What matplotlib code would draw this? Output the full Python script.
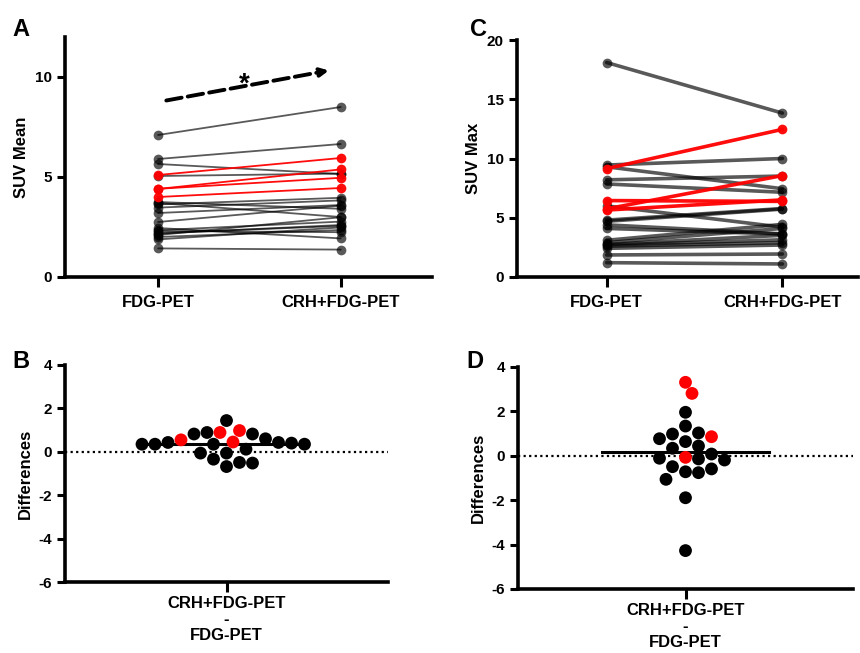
import numpy as np
import matplotlib
matplotlib.use("Agg")
import matplotlib.pyplot as plt

plt.rcParams['font.family'] = ['Liberation Sans', 'DejaVu Sans']
plt.rcParams['font.weight'] = 'bold'
plt.rcParams['axes.unicode_minus'] = False

groups = ['FDG-PET', 'CRH+FDG-PET']
diff_label = 'CRH+FDG-PET\n-\nFDG-PET'

# panel A: SUV mean, paired (FDG-PET, CRH+FDG-PET)
mean_pre_black = [7.1, 5.9, 5.65, 5.05, 3.7, 3.63, 3.47, 3.2, 3.75, 2.75,
                  2.34, 2.17, 2.0, 1.88, 1.43, 2.3, 2.1, 2.45, 2.2]
mean_post_black = [8.5, 6.65, 5.15, 5.17, 3.0, 3.96, 3.83, 3.6, 3.41, 3.57,
                   2.77, 2.6, 2.35, 2.48, 1.37, 2.24, 2.99, 1.93, 2.55]
mean_pre_red = [5.1, 4.4, 4.0, 4.41]
mean_post_red = [5.95, 5.38, 4.45, 4.96]

# panel C: SUV max
max_pre_black = [18.1, 9.45, 9.3, 8.2, 7.85, 6.0, 4.8, 4.7, 4.4, 4.1,
                 3.1, 2.9, 2.75, 2.7, 2.6, 2.42, 1.86, 1.21]
max_post_black = [13.83, 10.0, 7.45, 8.52, 7.15, 4.2, 5.78, 5.73, 3.64, 3.62,
                  4.44, 4.1, 3.52, 3.14, 2.9, 2.7, 1.94, 1.1]
max_pre_red = [9.15, 5.75, 6.45, 5.65]
max_post_red = [12.46, 8.56, 6.38, 6.51]

# panel B / D: differences
mean_diff_black = [0.43, 0.43, 0.35, 0.35, 1.44, 0.82, 0.12, 0.35, 0.82, 0.35,
                   0.89, 0.4, 0.6, -0.06, -0.49, -0.68, -0.52, -0.34, -0.06]
mean_diff_red = [0.55, 0.98, 0.89, 0.45]
max_diff_black = [1.96, 1.34, 0.98, 1.03, 0.77, 0.64, 0.34, 0.44, 0.08, -0.14,
                  -0.19, -0.11, -0.49, -0.72, -0.76, -0.59, -1.06, -1.89, -4.27]
max_diff_red = [3.31, 2.81, 0.86, -0.07]

W, H = 860, 653
fig = plt.figure(figsize=(W / 100, H / 100), dpi=100)


def px_axes(l, t, r, b):
    return fig.add_axes([l / W, 1 - b / H, (r - l) / W, (b - t) / H])


def style(ax):
    for s in ['top', 'right']:
        ax.spines[s].set_visible(False)
    for s in ['left', 'bottom']:
        ax.spines[s].set_linewidth(2.6)
    ax.tick_params(width=2.2, length=6, labelsize=11)
    ax.tick_params(axis='x', length=7, labelsize=12, pad=6)


def paired(ax, pre_b, post_b, pre_r, post_r, lw, ms):
    for a, b in zip(pre_b, post_b):
        ax.plot([0, 1], [a, b], color='black', alpha=0.65, lw=lw,
                marker='o', ms=ms, mec='none', solid_capstyle='round')
    for a, b in zip(pre_r, post_r):
        ax.plot([0, 1], [a, b], color='#ff0000', lw=lw, alpha=0.95,
                marker='o', ms=ms, mec='none')
    ax.set_xticks([0, 1])
    ax.set_xticklabels(groups)


def swarm(vals, px_per_x, px_per_y, diam):
    # greedy beeswarm in pixel space, half-diameter slots
    order = np.argsort(vals)[::-1]
    placed = []
    xs = np.zeros(len(vals))
    for i in order:
        y = vals[i] * px_per_y
        k = 0
        while True:
            cands = [0.0] if k == 0 else [k * diam / 2, -k * diam / 2]
            ok = None
            for c in cands:
                if all((c - px) ** 2 + (y - py) ** 2 >= (diam * 0.98) ** 2 for px, py in placed):
                    ok = c
                    break
            if ok is not None:
                break
            k += 1
        placed.append((ok, y))
        xs[i] = ok / px_per_x
    return xs


def diffs(ax, black, red, width_px, height_px):
    vals = np.array(black + red)
    cols = ['black'] * len(black) + ['#ff0000'] * len(red)
    xs = swarm(vals, width_px / 2.0, height_px / 10.0, 13)
    ax.axhline(0, color='black', lw=1.6, ls=(0, (1, 1.5)), zorder=1)
    ax.plot([-0.5, 0.5], [vals.mean()] * 2, color='black', lw=2.2, zorder=2)
    ax.scatter(xs, vals, s=85, c=cols, edgecolors='none', zorder=3)
    ax.set_xlim(-1, 1)
    ax.set_ylim(-6, 4)
    ax.set_yticks([-6, -4, -2, 0, 2, 4])
    ax.set_xticks([0])
    ax.set_xticklabels([diff_label], linespacing=1.1)
    ax.tick_params(axis='x', pad=3)
    ax.set_ylabel('Differences', fontsize=12, fontweight='bold', labelpad=4)


# A
axA = px_axes(65, 37, 432, 277)
style(axA)
paired(axA, mean_pre_black, mean_post_black, mean_pre_red, mean_post_red, 1.3, 7)
axA.set_xlim(-0.51, 1.5)
axA.set_ylim(0, 12)
axA.set_yticks([0, 5, 10])
axA.set_ylabel('SUV Mean', fontsize=12, fontweight='bold', labelpad=4)
axA.annotate('', xy=(0.95, 10.35), xytext=(0.03, 8.8),
             arrowprops=dict(arrowstyle='-|>', lw=2.8, ls=(0, (4, 1.6)),
                             color='black', mutation_scale=12))
axA.text(0.47, 9.6, '*', fontsize=20, fontweight='bold', ha='center', va='center')

# C
axC = px_axes(517, 40, 858, 277)
style(axC)
paired(axC, max_pre_black, max_post_black, max_pre_red, max_post_red, 2.6, 7)
axC.set_xlim(-0.51, 1.43)
axC.set_ylim(0, 20)
axC.set_yticks([0, 5, 10, 15, 20])
axC.set_ylabel('SUV Max', fontsize=12, fontweight='bold', labelpad=4)

# B
axB = px_axes(65, 365, 388, 582)
style(axB)
diffs(axB, mean_diff_black, mean_diff_red, 323, 217)

# D
axD = px_axes(518, 367, 853, 589)
style(axD)
diffs(axD, max_diff_black, max_diff_red, 335, 222)

for lab, x, y in [('A', 12, 30), ('C', 470, 30), ('B', 12, 362), ('D', 466, 362)]:
    fig.text(x / W, 1 - y / H, lab, fontsize=17, fontweight='bold', va='center')

fig.savefig('out.png', dpi=100)
